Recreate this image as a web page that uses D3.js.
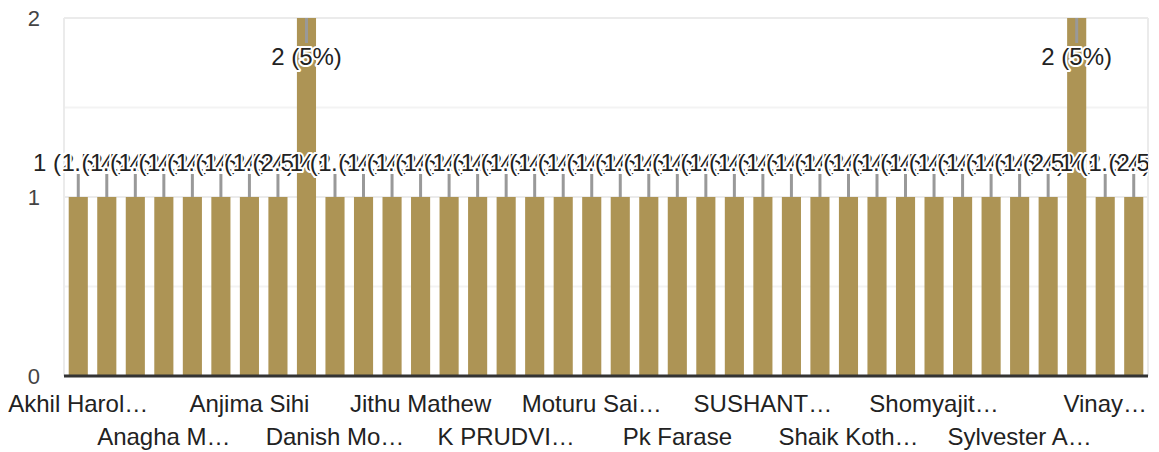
<!DOCTYPE html>
<html>
<head>
<meta charset="utf-8">
<script src="https://cdn.jsdelivr.net/npm/d3@7"></script>
<style>
  body { margin: 0; background: #fff; }
  svg { font-family: Arial, "Liberation Sans", sans-serif; }
</style>
</head>
<body>
<div id="chart"></div>
<script>
// DATA ------------------------------------------------------------------
// one bar per respondent (sorted by name); only every 3rd name shows as a tick
const categories = [
  "Akhil Harol…", "", "", "Anagha M…", "", "", "Anjima Sihi", "", "", "Danish Mo…",
  "", "", "Jithu Mathew", "", "", "K PRUDVI…", "", "", "Moturu Sai…", "",
  "", "Pk Farase", "", "", "SUSHANT…", "", "", "Shaik Koth…", "", "",
  "Shomyajit…", "", "", "Sylvester A…", "", "", "Vinay…", ""
];
const values = [
  1, 1, 1, 1, 1, 1, 1, 1, 2, 1,
  1, 1, 1, 1, 1, 1, 1, 1, 1, 1,
  1, 1, 1, 1, 1, 1, 1, 1, 1, 1,
  1, 1, 1, 1, 1, 2, 1, 1
];
const yTicks = [0, 1, 2];
const yGrid = [0.5, 1, 1.5, 2];
const tickEvery = 3;

// CHART INIT ------------------------------------------------------------
const W = 1159, H = 452;
const margin = {top: 18, right: 11, bottom: 76, left: 64};
const width = W - margin.left - margin.right;
const height = H - margin.top - margin.bottom;

const svg = d3.select('#chart')
  .append('svg')
  .attr('width', W)
  .attr('height', H);

// annotations get cut at the right edge of the plot, like the original
svg.append('defs').append('clipPath')
  .attr('id', 'ann-clip')
  .append('rect')
  .attr('x', -margin.left).attr('y', -margin.top)
  .attr('width', margin.left + width)
  .attr('height', H);

const g = svg.append('g')
  .attr('transform', 'translate(' + margin.left + ',' + margin.top + ')');

const xScale = d3.scaleBand()
  .domain(d3.range(values.length))
  .range([0, width])
  .paddingInner(0.33)
  .paddingOuter(0.165);

const yScale = d3.scaleLinear()
  .domain([0, 2])
  .range([height, 0]);

const total = d3.sum(values);

// gridlines + frame
g.selectAll('.grid')
  .data(yGrid)
  .join('line')
  .attr('class', 'grid')
  .attr('x1', 0).attr('x2', width)
  .attr('y1', d => yScale(d)).attr('y2', d => yScale(d))
  .attr('stroke', d => d % 1 === 0 ? '#ebebeb' : '#f3f3f3')
  .attr('stroke-width', 2);

g.selectAll('.frame')
  .data([0, width])
  .join('line')
  .attr('class', 'frame')
  .attr('x1', d => d).attr('x2', d => d)
  .attr('y1', 0).attr('y2', height)
  .attr('stroke', '#ebebeb')
  .attr('stroke-width', 2);

// y axis labels
const yAxis = d3.axisLeft(yScale)
  .tickValues(yTicks)
  .tickFormat(d3.format('d'))
  .tickSize(0)
  .tickPadding(24);

g.append('g')
  .attr('class', 'axis y-axis')
  .call(yAxis)
  .call(sel => sel.select('.domain').remove())
  .selectAll('text')
  .attr('font-size', 22)
  .attr('fill', '#444')
  .attr('font-family', 'Arial, "Liberation Sans", sans-serif');

// bars
g.selectAll('.bar')
  .data(values)
  .join('rect')
  .attr('class', 'bar')
  .attr('x', (d, i) => xScale(i))
  .attr('y', d => yScale(d))
  .attr('width', xScale.bandwidth())
  .attr('height', d => height - yScale(d))
  .attr('fill', '#ad9455');

// baseline
g.append('line')
  .attr('x1', 0).attr('x2', width)
  .attr('y1', yScale(0)).attr('y2', yScale(0))
  .attr('stroke', '#333')
  .attr('stroke-width', 3);

// x axis labels (every 3rd, staggered on two rows)
const xAxis = d3.axisBottom(xScale)
  .tickValues(d3.range(0, values.length, tickEvery))
  .tickFormat(i => categories[i])
  .tickSize(0)
  .tickPadding(0);

g.append('g')
  .attr('class', 'axis x-axis')
  .attr('transform', 'translate(0,' + height + ')')
  .call(xAxis)
  .call(sel => sel.select('.domain').remove())
  .selectAll('text')
  .attr('font-size', 24)
  .attr('fill', '#222')
  .attr('font-family', 'Arial, "Liberation Sans", sans-serif')
  .attr('dy', null)
  .attr('y', (i) => (i / tickEvery) % 2 === 0 ? 36 : 69);

// annotations: stem + "n (p%)" label with white halo
const plotTop = yScale(2);
const ann = values.map((v, i) => {
  const cx = xScale(i) + xScale.bandwidth() / 2;
  const barTop = yScale(v);
  const inside = barTop - plotTop < 30; // no room above -> drawn into the bar
  return {v, cx, barTop, inside};
});

g.selectAll('.stem')
  .data(ann)
  .join('line')
  .attr('class', 'stem')
  .attr('x1', d => d.cx).attr('x2', d => d.cx)
  .attr('y1', d => d.barTop)
  .attr('y2', d => d.inside ? d.barTop + 25 : d.barTop - 23)
  .attr('stroke', '#999')
  .attr('stroke-width', 3);

g.append('g')
  .attr('clip-path', 'url(#ann-clip)')
  .selectAll('.ann')
  .data(ann)
  .join('text')
  .attr('class', 'ann')
  .attr('x', d => d.cx)
  .attr('y', d => d.inside ? d.barTop + 47 : d.barTop - 26)
  .attr('text-anchor', 'middle')
  .attr('font-size', 24)
  .attr('fill', '#222')
  .attr('stroke', '#fff')
  .attr('stroke-width', 4)
  .attr('stroke-linejoin', 'round')
  .attr('paint-order', 'stroke')
  .text(d => d.v + ' (' + d3.format('~g')(d.v / total * 100) + '%)');
</script>
</body>
</html>
